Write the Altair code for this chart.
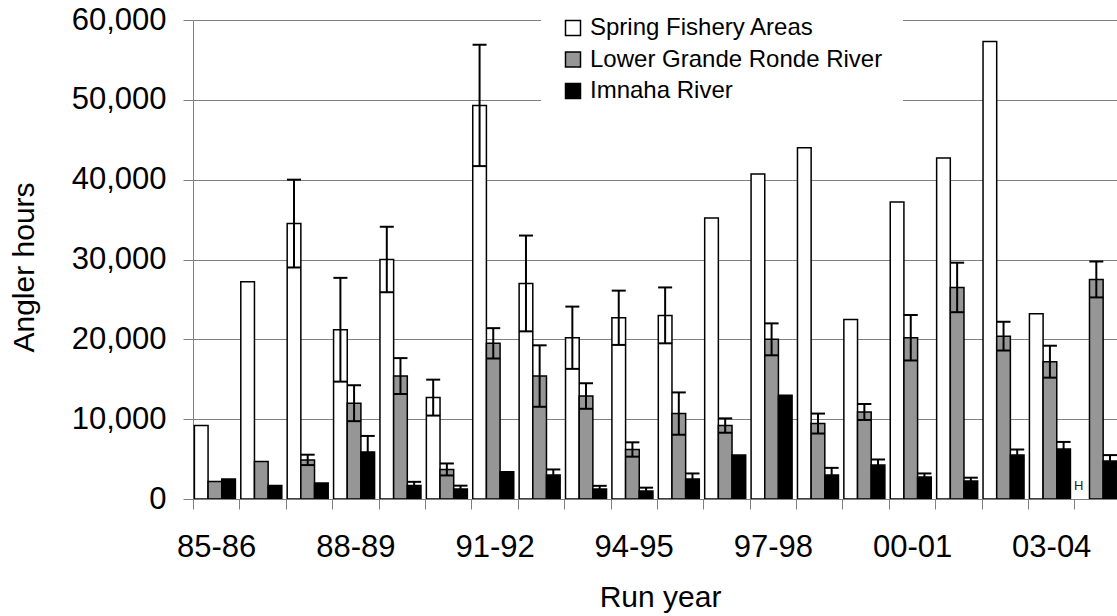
import json

import altair as alt
import pandas as pd

# Run years (one category group each)
run_years = ["85-86", "86-87", "87-88", "88-89", "89-90", "90-91", "91-92", "92-93",
             "93-94", "94-95", "95-96", "96-97", "97-98", "98-99", "99-00", "00-01",
             "01-02", "02-03", "03-04", "04-05"]

series_names = ["Spring Fishery Areas", "Lower Grande Ronde River", "Imnaha River"]
series_fills = ["#ffffff", "#969696", "#000000"]

# Angler hours per run year (None = no estimate)
spring_hours = [9200, 27200, 34500, 21200, 30000, 12700, 49300, 27000, 20200, 22700,
                23000, 35200, 40700, 44000, 22500, 37200, 42700, 57300, 23200, None]
grande_hours = [2200, 4700, 4900, 12000, 15400, 3700, 19500, 15400, 12900, 6200,
                10700, 9200, 20000, 9450, 10900, 20200, 26500, 20400, 17200, 27500]
imnaha_hours = [2500, 1700, 2000, 5900, 1700, 1250, 3400, 3000, 1250, 1000,
                2500, 5500, 13000, 3000, 4250, 2750, 2250, 5500, 6250, 4750]

# Half-width of the error bars (None = no error bar shown)
spring_err = [None, None, 5500, 6500, 4100, 2250, 7600, 6000, 3900, 3400,
              3500, None, None, None, None, None, None, None, None, None]
grande_err = [None, None, 650, 2250, 2250, 750, 1900, 3850, 1600, 900,
              2650, 900, 2000, 1250, 1000, 2850, 3100, 1800, 2000, 2250]
imnaha_err = [None, None, None, 2000, 450, 420, None, 700, 400, 420,
              700, None, None, 900, 700, 450, 420, 700, 900, 750]

# Annotation shown for 04-05 in place of the spring fishery bar
note_year = "04-05"
note_text = "H"
note_level = 1650

# Layout (pixels)
PLOT_W = 924
PLOT_H = 479
GROUP_PX = 46.39
LEAD_PX = 1.4
BAR_PX = 13.67
CAP_PX = 14.0
X_END = PLOT_W / GROUP_PX

values_by_series = [spring_hours, grande_hours, imnaha_hours]
errors_by_series = [spring_err, grande_err, imnaha_err]

bar_rows, err_rows, cap_rows = [], [], []
for s, name in enumerate(series_names):
    for i, year in enumerate(run_years):
        v = values_by_series[s][i]
        e = errors_by_series[s][i]
        left = i + (LEAD_PX + s * BAR_PX) / GROUP_PX
        right = left + BAR_PX / GROUP_PX
        mid = (left + right) / 2
        if v is not None:
            bar_rows.append({"year": year, "series": name, "x0": left, "x1": right, "hours": v})
        if v is not None and e is not None:
            err_rows.append({"year": year, "series": name, "xc": mid,
                             "lo": v - e, "hi": v + e})
            for level in (v - e, v + e):
                cap_rows.append({"year": year, "series": name,
                                 "cl": mid - CAP_PX / 2 / GROUP_PX,
                                 "cr": mid + CAP_PX / 2 / GROUP_PX,
                                 "level": level})

bars_df = pd.DataFrame(bar_rows)
err_df = pd.DataFrame(err_rows)
cap_df = pd.DataFrame(cap_rows)

ni = run_years.index(note_year)
note_df = pd.DataFrame([{
    "year": note_year,
    "xc": ni + (LEAD_PX + BAR_PX / 2) / GROUP_PX,
    "level": note_level,
    "note": note_text,
}])

GRID = "#808080"
FONT = "Liberation Sans"

label_expr = ("(datum.value % 1 == 0.5 && floor(datum.value) % 3 == 0) ? "
              + json.dumps(run_years) + "[floor(datum.value)] : ''")

x_scale = alt.Scale(domain=[0, X_END], nice=False, zero=False)
x_axis = alt.Axis(
    values=[k / 2 for k in range(40)],
    labelExpr=label_expr,
    tickOpacity={"condition": {"test": "datum.value % 1 != 0", "value": 0}, "value": 1},
    tickSize=10, tickColor=GRID, tickWidth=1,
    domainColor=GRID, domainWidth=1,
    grid=False,
    labelFontSize=31, labelColor="black", labelPadding=23, labelFont=FONT,
    labelOverlap=False, labelFlush=False, labelBound=False,
    title="Run year", titleFontSize=30, titleFontWeight="normal", titleColor="black",
    titleFont=FONT, titleX=467, titleY=107, titleAlign="center",
    titleBaseline="alphabetic", titleAnchor="start",
)

y_scale = alt.Scale(domain=[0, 60000], nice=False)
y_axis = alt.Axis(
    values=list(range(0, 60001, 10000)), format=",.0f",
    grid=True, gridColor=GRID, gridWidth=1,
    tickSize=10, tickColor=GRID, tickWidth=1,
    domainColor=GRID, domainWidth=1,
    labelFontSize=31, labelColor="black", labelPadding=17, labelFont=FONT,
    title="Angler hours", titleFontSize=30, titleFontWeight="normal", titleColor="black",
    titleFont=FONT, titleAngle=270, titleX=-160, titleY=247, titleAlign="center",
    titleBaseline="alphabetic", titleAnchor="start",
)

legend = alt.Legend(
    title=None, orient="none", legendX=348, legendY=-24,
    fillColor="white", padding=20,
    symbolType="square", symbolSize=225, symbolStrokeColor="black",
    symbolStrokeWidth=1.5, symbolOpacity=1,
    labelFontSize=24, labelFont=FONT, labelColor="black", labelOffset=5,
    labelLimit=600, rowPadding=7.5,
)

bars = alt.Chart(bars_df).mark_bar(stroke="black", strokeWidth=1.5, clip=True).encode(
    x=alt.X("x0:Q", scale=x_scale, axis=x_axis),
    x2="x1:Q",
    y=alt.Y("hours:Q", scale=y_scale, axis=y_axis, stack=None),
    y2=alt.datum(0),
    fill=alt.Fill("series:N", scale=alt.Scale(domain=series_names, range=series_fills),
                  legend=legend),
)

err_lines = alt.Chart(err_df).mark_rule(color="black", strokeWidth=2, clip=True).encode(
    x=alt.X("xc:Q", scale=x_scale, axis=x_axis),
    y=alt.Y("lo:Q", scale=y_scale, axis=y_axis),
    y2="hi:Q",
)

err_caps = alt.Chart(cap_df).mark_rule(color="black", strokeWidth=2, clip=True).encode(
    x=alt.X("cl:Q", scale=x_scale, axis=x_axis),
    x2="cr:Q",
    y=alt.Y("level:Q", scale=y_scale, axis=y_axis),
)

note = alt.Chart(note_df).mark_text(
    font=FONT, fontSize=13, color="#222222", align="center", baseline="middle", dx=-4
).encode(
    x=alt.X("xc:Q", scale=x_scale, axis=x_axis),
    y=alt.Y("level:Q", scale=y_scale, axis=y_axis),
    text="note:N",
)

chart = (
    alt.layer(bars, err_lines, err_caps, note)
    .properties(
        width=PLOT_W, height=PLOT_H,
        autosize=alt.AutoSizeParams(type="none"),
        padding={"left": 193, "top": 20, "right": 0, "bottom": 117},
        background="white",
    )
    .configure(font=FONT)
    .configure_view(stroke=None)
)

chart.save("out.html", embed_options={"renderer": "svg", "actions": False})
